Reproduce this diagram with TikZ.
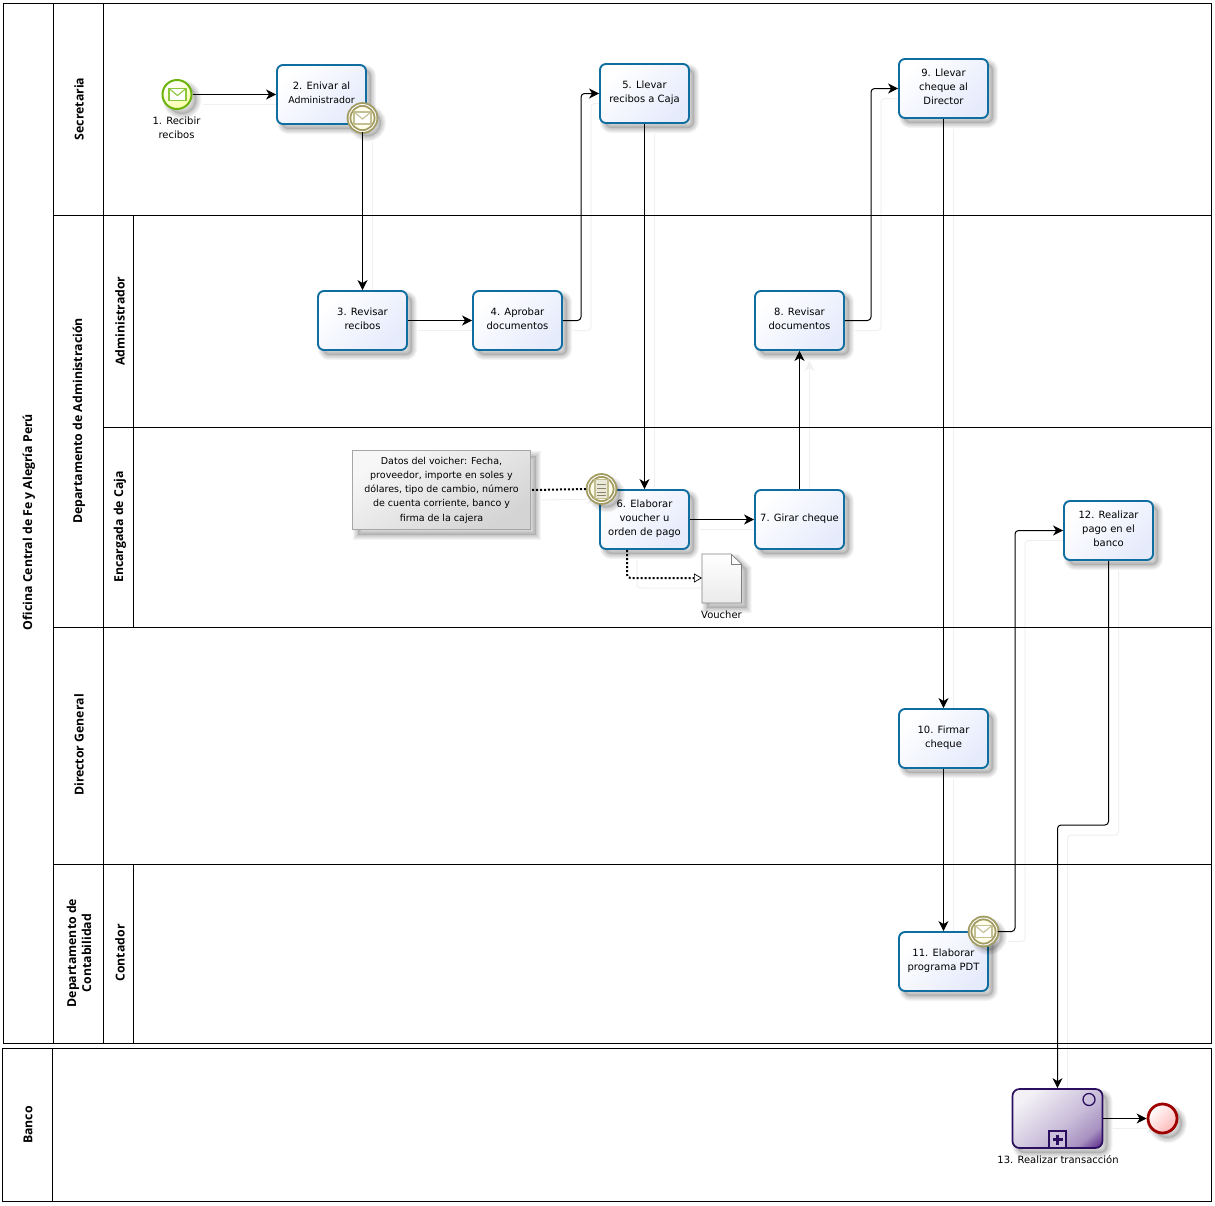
\documentclass[tikz,border=0pt]{standalone}
\usepackage{fontspec}
\setmainfont{DejaVu Sans}
\newfontfamily\lanefont{Open Sans}
\usetikzlibrary{arrows.meta,calc}
\pgfdeclarelayer{back}
\pgfsetlayers{back,main}
\definecolor{taskline}{HTML}{0F6E9F}
\definecolor{taskfill}{HTML}{E6EBFC}
\definecolor{evline}{HTML}{A39C62}
\definecolor{evicon}{HTML}{C4BF92}
\definecolor{startline}{HTML}{6CB30C}
\definecolor{starticon}{HTML}{8CC63A}
\definecolor{ghost}{HTML}{F0F0F0}
\definecolor{subline}{HTML}{2B0E5F}
\definecolor{submid}{HTML}{C9BDD9}
\definecolor{subdeep}{HTML}{5A2A88}
\definecolor{sublight}{HTML}{F3F1F6}
\pgfdeclareverticalshading{subshade}{100bp}{color(0bp)=(subdeep); color(16bp)=(subdeep); color(27bp)=(submid!70!subdeep); color(44bp)=(submid); color(75bp)=(sublight); color(100bp)=(sublight)}
\newcommand{\flowlink}[2][flow]{%
  \begin{pgfonlayer}{back}\draw[ghostline] #2;\end{pgfonlayer}%
  \draw[#1] #2;}
\newcommand{\ENDL}{\\[-11pt]}
\tikzset{
 x=1pt,y=-1pt,
 shadowring/.style={preaction={draw=black,draw opacity=.045,line width=#1,transform canvas={shift={(5pt,-5pt)}}}},
 softshadow/.style={preaction={fill=black,fill opacity=.12,transform canvas={shift={(5pt,-5pt)}}},
   shadowring=10pt,shadowring=8pt,shadowring=6pt,shadowring=4pt,shadowring=2pt},
 lane/.style={draw=black,line width=.8pt},
 lanetext/.style={rotate=90,align=center,font=\lanefont\bfseries\fontsize{12.3}{15}\selectfont,inner sep=0},
 tasktext/.style={align=center,font=\fontsize{10}{14}\selectfont,inner sep=0},
 taskbox/.style={draw=taskline,line width=1.9pt,rounded corners=6pt,minimum width=89pt,minimum height=59pt,inner sep=0,
   top color=white,bottom color=taskfill,shading angle=45,softshadow,tasktext},
 subproc/.style={draw=subline,line width=1.7pt,rounded corners=7pt,minimum width=90pt,minimum height=59pt,inner sep=0,
   shading=subshade,shading angle=40,softshadow},
 startev/.style={circle,draw=startline,line width=2pt,minimum size=29pt,inner sep=0,top color=white,bottom color=lime!22!yellow!35!white,shading angle=30,softshadow},
 endev/.style={circle,draw=red!62!black,line width=2.8pt,minimum size=29pt,inner sep=0,top color=white,bottom color=red!28!white,shading angle=45,softshadow},
 attached/.style={circle,draw=evline,line width=1.9pt,double=white,double distance=.9pt,minimum size=27pt,inner sep=0,fill=yellow!8!white,softshadow},
 flow/.style={draw=black,line width=1pt,rounded corners=3.5pt,-{Stealth[length=10pt,width=10pt,inset=3pt]}},
 ghostline/.style={draw=ghost,line width=1pt,rounded corners=3.5pt,-{Stealth[length=10pt,width=10pt,inset=3pt]},transform canvas={shift={(10pt,-10pt)}}},
 dotline/.style={draw=black,line width=2pt,dash pattern=on 2pt off 2pt,rounded corners=3.5pt},
 assoc/.style={dotline,-{Triangle[open,length=8pt,width=9pt,line width=.7pt,fill=white]}},
 iconline/.style={line width=1.1pt},
}
\begin{document}
\begin{tikzpicture}
\useasboundingbox (0,0) rectangle (1215,1205);
\begin{pgfonlayer}{back}
\fill[white] (0,0) rectangle (1215,1205);
\end{pgfonlayer}

% pools and lanes
\draw[lane] (3,3) rectangle (1211,1043);
\draw[lane] (53,3) -- (53,1043);
\draw[lane] (103,3) -- (103,1043);
\draw[lane] (133,215) -- (133,627);
\draw[lane] (133,864) -- (133,1043);
\draw[lane] (53,215) -- (1211,215);
\draw[lane] (103,427) -- (1211,427);
\draw[lane] (53,627) -- (1211,627);
\draw[lane] (53,864) -- (1211,864);
\draw[lane] (2,1048) rectangle (1211,1201);
\draw[lane] (52,1048) -- (52,1201);

\node[lanetext] (lOfi) at (29,522) {Oficina Central de Fe y Alegría Perú};
\node[lanetext] (lSec) at (79,109) {Secretaria};
\node[lanetext] (lDep) at (79,421) {Departamento de Administración};
\node[lanetext] (lAdm) at (120,321) {Administrador};
\node[lanetext] (lEnc) at (120,527) {Encargada de Caja};
\node[lanetext] (lDir) at (79,745) {Director General};
\node[lanetext] (lCon) at (79,953) {Departamento de\\Contabilidad};
\node[lanetext] (lCnt) at (120,953) {Contador};
\node[lanetext] (lBan) at (28,1125) {Banco};

% tasks
\node[taskbox] (t2) at (321.5,94.5) {2. Enivar al\\{\fontsize{9.4}{14}\selectfont Administrador}\ENDL};
\node[taskbox] (t3) at (362.5,320.5) {3. Revisar\\recibos\ENDL};
\node[taskbox] (t4) at (517.5,320.5) {4. Aprobar\\documentos\ENDL};
\node[taskbox] (t5) at (644.5,93.5) {5. Llevar\\recibos a Caja\ENDL};
\node[taskbox] (t6) at (644.5,519.5) {6. Elaborar\\voucher u\\orden de pago\ENDL};
\node[taskbox] (t7) at (799.5,519.5) {7. Girar cheque\ENDL};
\node[taskbox] (t8) at (799.5,320.5) {8. Revisar\\documentos\ENDL};
\node[taskbox] (t9) at (943.5,88.5) {9. Llevar\\cheque al\\Director\ENDL};
\node[taskbox] (t10) at (943.5,738.5) {10. Firmar\\cheque\ENDL};
\node[taskbox] (t11) at (943.5,961.5) {11. Elaborar\\programa PDT\ENDL};
\node[taskbox] (t12) at (1108.5,530.5) {12. Realizar\\pago en el\\banco\ENDL};
\node[subproc] (t13) at (1057.5,1118.5) {};
\node[tasktext] (l13) at (1058,1160) {13. Realizar transacción};

% subprocess markers
\node[circle,draw=subline,line width=1.3pt,minimum size=12pt,inner sep=0] (m13) at (1089,1099.5) {};
\node[draw=subline,line width=1.5pt,minimum size=17pt,inner sep=0,fill=submid] (p13) at (1057.5,1139.5) {};
\fill[subline] (1052.5,1138) rectangle (1062.5,1141);
\fill[subline] (1056,1134.5) rectangle (1059,1144.5);

% events
\node[startev] (e1) at (177,94.5) {};
\node[tasktext] (l1) at (176.5,128) {1. Recibir\\recibos};
\draw[starticon,line width=1.1pt,fill=white] (169,88.5) rectangle (186,100.5);
\draw[starticon,line width=1.1pt] (169,88.5) -- (177.5,95.5) -- (186,88.5);

\node[attached] (b2) at (362.5,118) {};
\draw[evicon,iconline,fill=white] (354,112) rectangle (371,124);
\draw[evicon,iconline] (354,112) -- (362.5,119) -- (371,112);

\node[attached] (b6) at (601.5,489) {};
\draw[evicon,iconline,fill=evicon!35] (595,479.5) rectangle (608,498.5);
\foreach \yy in {484,488,492,495.5} \draw[evicon!70!black,line width=.9pt] (597,\yy) -- (606,\yy);

\node[attached] (b11) at (983.5,931.5) {};
\draw[evicon,iconline,fill=white] (975,925.5) rectangle (992,937.5);
\draw[evicon,iconline] (975,925.5) -- (983.5,932.5) -- (992,925.5);

\node[endev] (e13) at (1162.5,1118.5) {};

% annotation and data object
\node[draw=black!35,line width=.8pt,minimum width=178pt,minimum height=79pt,inner sep=0,align=center,
      top color=black!3,bottom color=black!17,shading angle=30,softshadow,font=\fontsize{9.5}{14.2}\selectfont] (n6) at (441.5,490)
  {Datos del voicher: Fecha,\\proveedor, importe en soles y\\dólares, tipo de cambio, número\\de cuenta corriente, banco y\\firma de la cajera};
\path[draw=black!50,line width=.7pt,top color=white,bottom color=black!8,softshadow]
  (702,554) -- (731,554) -- (741.5,564) -- (741.5,603) -- (702,603) -- cycle;
\draw[black!50,line width=.6pt] (731,554) -- (731,564) -- (741.5,564);
\coordinate (doc) at (702,578);
\node[tasktext] (lv) at (721.5,615) {Voucher};

% connectors
\flowlink{(e1.east) -- (t2.west |- e1.east)}
\flowlink{(b2.south) -- (t3.north -| b2.south)}
\flowlink{(t3.east) -- (t4.west)}
\flowlink{(t4.east) -- (581,320.5) |- (t5.west)}
\flowlink{(t5.south) -- (t6.north)}
\flowlink{(t6.east) -- (t7.west)}
\flowlink{(t7.north) -- (t8.south)}
\flowlink{(t8.east) -- (871,320.5) |- (t9.west)}
\flowlink{(t9.south) -- (t10.north)}
\flowlink{(t10.south) -- (t11.north)}
\flowlink{(b11.east) -- (1015,931.5) |- (t12.west)}
\flowlink{(t12.south) -- (1108.5,825) -- (1057.5,825) -- (t13.north)}
\flowlink{(t13.east) -- (e13.west)}
\flowlink[dotline]{(n6.east -| 532,0) -- (b6.west)}
\flowlink[assoc]{(627,550) -- (627,578) -- (doc)}
\end{tikzpicture}
\end{document}
